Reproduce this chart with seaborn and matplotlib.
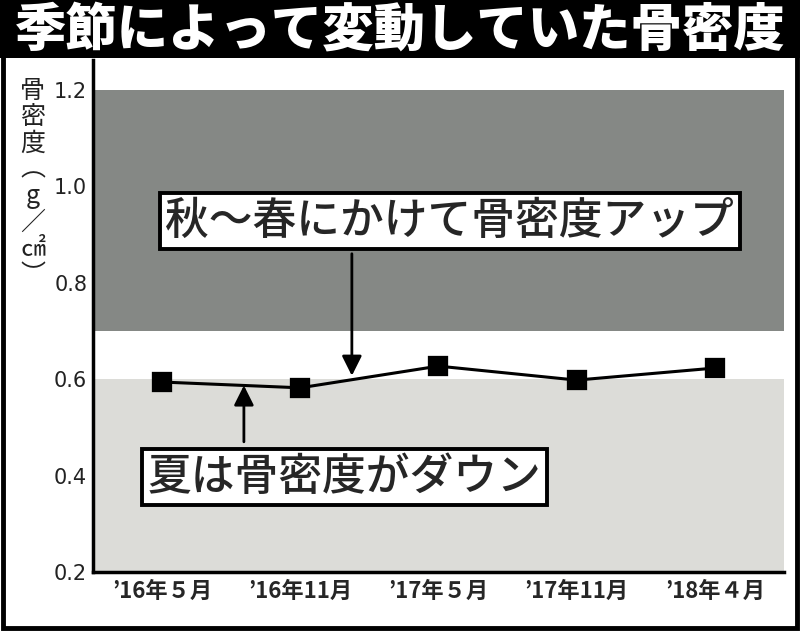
import matplotlib
matplotlib.use('Agg')
import matplotlib.pyplot as plt
import matplotlib.patches as patches
import seaborn as sns
import pandas as pd

# データ
months = ['’16年５月', '’16年11月', '’17年５月', '’17年11月', '’18年４月']
bmd = [0.594, 0.582, 0.627, 0.598, 0.623]
yticks = [0.2, 0.4, 0.6, 0.8, 1.0, 1.2]
title = '季節によって変動していた骨密度'
ylabel_chars = ['骨', '密', '度', '︵', 'g', '／', '㎠', '︶']
note_up = '秋〜春にかけて骨密度アップ'
note_down = '夏は骨密度がダウン'
high_band = (0.7, 1.2)
low_band = (0.2, 0.6)

sns.set_style('white')
plt.rcParams['font.family'] = ['Noto Sans CJK JP', 'DejaVu Sans']

df = pd.DataFrame({'month': months, 'bmd': bmd})

fig = plt.figure(figsize=(8, 6.31), dpi=100)
ax = fig.add_axes([0.116, 0.0935, 0.864, 0.8115])

# 背景の帯
ax.axhspan(*high_band, color='#858885', lw=0, zorder=0)
ax.axhspan(*low_band, color='#dcdcd8', lw=0, zorder=0)

sns.pointplot(data=df, x='month', y='bmd', color='black', markers='s',
              markersize=13, linewidth=2.2, ax=ax, zorder=5)

ax.set_xlim(-0.5, len(months) - 0.5)
ax.set_ylim(0.2, 1.262)
ax.set_xlabel('')
ax.set_ylabel('')

# 軸
for s in ['top', 'right']:
    ax.spines[s].set_visible(False)
ax.spines['left'].set_linewidth(2.5)
ax.spines['bottom'].set_linewidth(2.5)
ax.spines['left'].set_color('black')
ax.spines['bottom'].set_color('black')

ax.set_yticks(yticks)
ax.set_yticklabels([f'{v:.1f}' for v in yticks], fontsize=15, family=['DejaVu Sans'])
ax.tick_params(axis='y', direction='in', length=11, width=2, pad=4, colors='black',
               labelcolor='#222222')
ax.set_xticks(range(len(months)))
ax.set_xticklabels(months, fontsize=16, fontweight='bold')
ax.set_xticks([i + 0.5 for i in range(len(months))], minor=True)
ax.tick_params(axis='x', which='major', length=0, pad=6)
ax.tick_params(axis='x', which='minor', direction='in', length=8, width=2, colors='black')

# 縦書きの軸ラベル
fig.text(0.041, 0.877, '\n'.join(ylabel_chars), ha='center', va='top',
         fontsize=18, linespacing=1.02, color='#222222')

# 注釈
box = dict(boxstyle='square,pad=0.13', fc='white', ec='black', lw=2.8)
ax.text(2.083, 0.928, note_up, ha='center', va='center', fontsize=31.5,
        fontweight='medium', bbox=box, zorder=6)
ax.text(1.323, 0.397, note_down, ha='center', va='center', fontsize=31.5,
        fontweight='medium', bbox=box, zorder=6)
arrow = dict(arrowstyle='-|>,head_length=0.5,head_width=0.25', color='black', lw=2,
             mutation_scale=24, shrinkA=0, shrinkB=0)
ax.annotate('', xy=(1.374, 0.607), xytext=(1.374, 0.86), arrowprops=arrow, zorder=4)
ax.annotate('', xy=(0.593, 0.587), xytext=(0.593, 0.47), arrowprops=arrow, zorder=4)

# タイトル帯と外枠
fig.patches.append(patches.Rectangle((0, 1 - 58 / 631), 1, 58 / 631,
                                     transform=fig.transFigure, fc='black', ec='none'))
fig.text(0.5, 1 - 30 / 631, title, ha='center', va='center', color='white',
         fontsize=37, fontweight='black')
fig.patches.append(patches.Rectangle((0.004, 0.005), 0.992, 0.99,
                                     transform=fig.transFigure, fill=False,
                                     ec='black', lw=3.5))

fig.savefig('out.png', dpi=100)
